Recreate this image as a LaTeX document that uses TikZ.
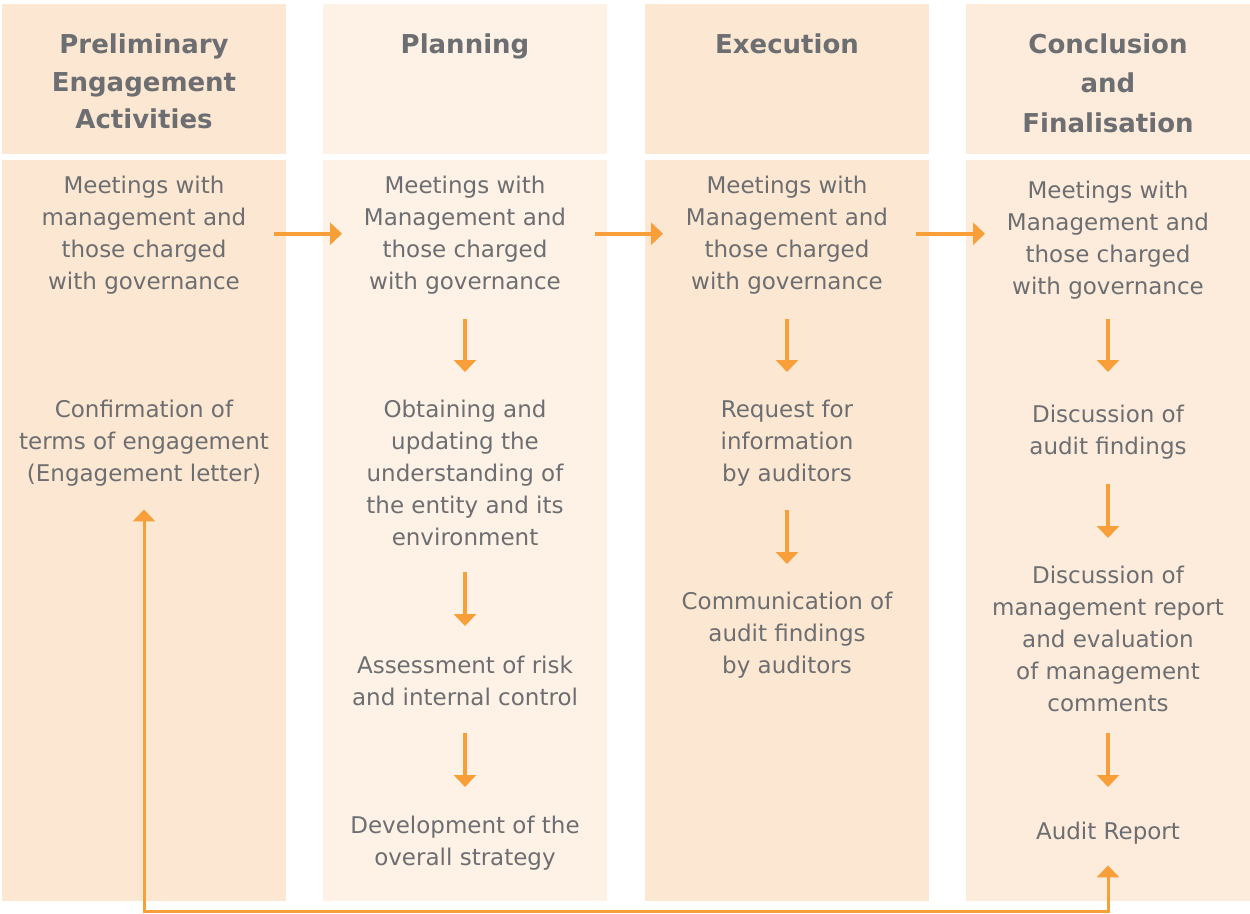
\documentclass[tikz,border=0pt]{standalone}
\usepackage{fontspec}
\setmainfont{DejaVu Sans}
\usetikzlibrary{arrows.meta}

\definecolor{panelA}{HTML}{FCE8D2}
\definecolor{panelB}{HTML}{FEF2E6}
\definecolor{panelD}{HTML}{FDECDC}
\definecolor{ink}{HTML}{6D6E71}
\definecolor{flowc}{HTML}{F89F3A}

\begin{document}
\begin{tikzpicture}[x=1pt,y=-1pt,
  bodytext/.style={anchor=north, align=center, inner sep=0pt, text=ink,
    font=\fontsize{23}{32}\selectfont,
    execute at begin node=\strut, execute at end node=\strut},
  headtext/.style={anchor=north, align=center, inner sep=0pt, text=ink,
    font=\bfseries\fontsize{26}{37.5}\selectfont,
    execute at begin node=\strut, execute at end node=\strut},
  flow/.style={draw=flowc, line width=4pt, -{Triangle[width=22pt,length=12pt]}},
  loopline/.style={draw=flowc, line width=3pt, line join=miter,
    {Triangle[width=22pt,length=12pt]}-{Triangle[width=22pt,length=12pt]}}
]
\useasboundingbox (0,0) rectangle (1250,913);

% column panels: header strip and body
\fill[panelA] (2,4) rectangle (286,154);
\fill[panelA] (2,159.5) rectangle (286,900.5);
\fill[panelB] (323,4) rectangle (607,154);
\fill[panelB] (323,159.5) rectangle (607,900.5);
\fill[panelA] (645,4) rectangle (929,154);
\fill[panelA] (645,159.5) rectangle (929,900.5);
\fill[panelD] (966,4) rectangle (1250,154);
\fill[panelD] (966,159.5) rectangle (1250,900.5);

% column titles
\node[headtext] (h1) at (144,33.75) {Preliminary\\Engagement\\Activities};
\node[headtext] (h2) at (465,26.75) {Planning};
\node[headtext] (h3) at (787,26.75) {Execution};
\node[headtext, font=\bfseries\fontsize{26}{39.5}\selectfont] (h4) at (1108,33.35) {Conclusion\\and\\Finalisation};

% preliminary engagement activities
\node[bodytext] (m1) at (144,175.6) {Meetings with\\management and\\those charged\\with governance};
\node[bodytext] (c1) at (144,399.6) {Confirmation of\\terms of engagement\\(Engagement letter)};

% planning
\node[bodytext] (m2) at (465,175.6) {Meetings with\\Management and\\those charged\\with governance};
\node[bodytext] (o2) at (465,399.6) {Obtaining and\\updating the\\understanding of\\the entity and its\\environment};
\node[bodytext] (a2) at (465,655.6) {Assessment of risk\\and internal control};
\node[bodytext] (d2) at (465,815.6) {Development of the\\overall strategy};

% execution
\node[bodytext] (m3) at (787,175.6) {Meetings with\\Management and\\those charged\\with governance};
\node[bodytext] (r3) at (787,399.6) {Request for\\information\\by auditors};
\node[bodytext] (k3) at (787,591.6) {Communication of\\audit findings\\by auditors};

% conclusion and finalisation
\node[bodytext] (m4) at (1108,180.6) {Meetings with\\Management and\\those charged\\with governance};
\node[bodytext] (f4) at (1108,404.6) {Discussion of\\audit findings};
\node[bodytext] (e4) at (1108,565.6) {Discussion of\\management report\\and evaluation\\of management\\comments};
\node[bodytext] (ar4) at (1108,816.6) {Audit Report};

% meetings carried from phase to phase
\draw[flow, shorten <=130pt, shorten >=123pt] ([yshift=3.6pt]m1.center) -- ([yshift=3.6pt]m1.center -| m2.center);
\draw[flow, shorten <=130pt, shorten >=124pt] ([yshift=3.6pt]m2.center) -- ([yshift=3.6pt]m2.center -| m3.center);
\draw[flow, shorten <=129pt, shorten >=123pt] ([yshift=3.6pt]m3.center) -- ([yshift=3.6pt]m3.center -| m4.center);

% steps within each phase
\draw[flow, shorten <=20.4pt, shorten >=27.6pt] (m2.south) -- (o2.north);
\draw[flow, shorten <=17.4pt, shorten >=29.6pt] (o2.south) -- (a2.north);
\draw[flow, shorten <=18.4pt, shorten >=28.6pt] (a2.south) -- (d2.north);
\draw[flow, shorten <=20.4pt, shorten >=27.6pt] (m3.south) -- (r3.north);
\draw[flow, shorten <=19.4pt, shorten >=27.6pt] (r3.south) -- (k3.north);
\draw[flow, shorten <=15.4pt, shorten >=32.6pt] (m4.south) -- (f4.north);
\draw[flow, shorten <=20.4pt, shorten >=27.6pt] (f4.south) -- (e4.north);
\draw[flow, shorten <=12.4pt, shorten >=29.6pt] (e4.south) -- (ar4.north);

% feedback loop from the audit report to the engagement letter
\coordinate (base) at (0,911.5);
\draw[loopline, shorten <=18.4pt, shorten >=16.4pt]
  (c1.south) -- (c1.south |- base) -- (ar4.south |- base) -- (ar4.south);
\end{tikzpicture}
\end{document}
